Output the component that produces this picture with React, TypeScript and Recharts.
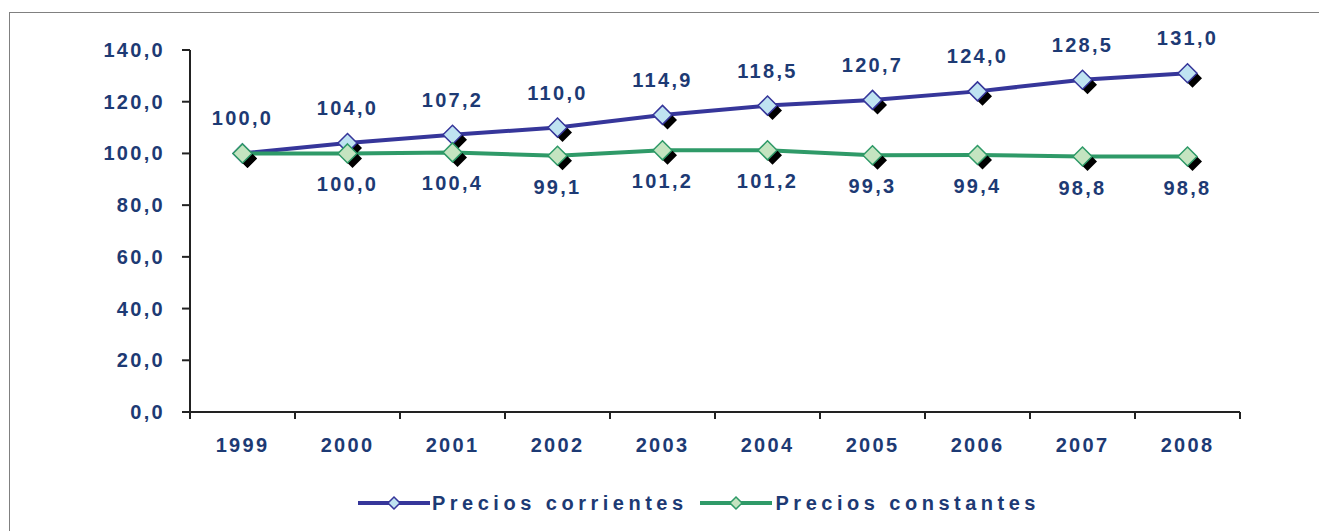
import React from "react";
import {
  LineChart, Line, XAxis, YAxis, LabelList, Legend,
} from "recharts";

const years = ["1999", "2000", "2001", "2002", "2003", "2004", "2005", "2006", "2007", "2008"];
const corrientes = [100.0, 104.0, 107.2, 110.0, 114.9, 118.5, 120.7, 124.0, 128.5, 131.0];
const constantes = [100.0, 100.0, 100.4, 99.1, 101.2, 101.2, 99.3, 99.4, 98.8, 98.8];
const yTicks = [0, 20, 40, 60, 80, 100, 120, 140];

const data = years.map((year, i) => ({
  year,
  corrientes: corrientes[i],
  constantes: constantes[i],
}));

const W = 1319;
const H = 531;
const LEFT = 190;
const RIGHT = 79;
const BAND = (W - LEFT - RIGHT) / years.length;

const NAVY = "#1d3a74";
const BLUE = "#36369a";
const BLUE_FILL = "#bfe3f1";
const GREEN = "#2f9a68";
const GREEN_FILL = "#c4e4c0";
const FONT = "'Liberation Sans', Arial, sans-serif";

const fmt = (v: number) => v.toFixed(1).replace(".", ",");

const textStyle = {
  fill: NAVY,
  fontFamily: FONT,
  fontWeight: 700,
  fontSize: 20,
  letterSpacing: 2.3,
};

const diamond = (cx: number, cy: number, r: number) =>
  `${cx},${cy - r} ${cx + r},${cy} ${cx},${cy + r} ${cx - r},${cy}`;

const makeDot = (stroke: string, fill: string) => (props: any) => {
  const { cx, cy, index } = props;
  if (cx == null || cy == null) return <g key={`e-${index}`} />;
  return (
    <g key={`d-${stroke}-${index}`}>
      <polygon points={diamond(cx + 5, cy + 5, 9.5)} fill="#000" />
      <polygon points={diamond(cx, cy, 9.5)} fill={fill} stroke={stroke} strokeWidth={1.5} />
    </g>
  );
};

const XTick = ({ x, y, payload, index }: any) => (
  <g>
    <line x1={x - BAND / 2} x2={x - BAND / 2} y1={y} y2={y + 7} stroke="#222" strokeWidth={2} />
    {index === years.length - 1 && (
      <line x1={x + BAND / 2} x2={x + BAND / 2} y1={y} y2={y + 7} stroke="#222" strokeWidth={2} />
    )}
    <text x={x} y={y + 40} textAnchor="middle" style={textStyle}>
      {payload.value}
    </text>
  </g>
);

const YTick = ({ x, y, payload }: any) => (
  <text x={x} y={y} dy="0.35em" textAnchor="end" style={textStyle}>
    {fmt(payload.value)}
  </text>
);

const topLabel = ({ x, y, value }: any) => (
  <text x={x} y={y - 28} textAnchor="middle" style={textStyle}>
    {fmt(value)}
  </text>
);

// the 1999 label of the constant series is hidden in the original (it overlaps)
const bottomLabel = ({ x, y, value, index }: any) =>
  index === 0 ? null : (
    <text x={x} y={y + 38} textAnchor="middle" style={textStyle}>
      {fmt(value)}
    </text>
  );

const LegendIcon = ({ stroke, fill }: { stroke: string; fill: string }) => (
  <svg width={72} height={20} style={{ display: "block" }}>
    <line x1={0} x2={72} y1={10} y2={10} stroke={stroke} strokeWidth={4} />
    <polygon points={diamond(36, 10, 6)} fill={fill} stroke={stroke} strokeWidth={1.5} />
  </svg>
);

const legendText = {
  color: NAVY,
  fontFamily: FONT,
  fontWeight: 700,
  fontSize: 20,
  letterSpacing: 4.5,
  whiteSpace: "nowrap" as const,
};

const renderLegend = () => (
  <div
    style={{
      height: 50,
      display: "flex",
      alignItems: "center",
      paddingLeft: 358,
      paddingBottom: 6,
      boxSizing: "border-box",
    }}
  >
    <LegendIcon stroke={BLUE} fill={BLUE_FILL} />
    <span style={{ ...legendText, marginLeft: 2 }}>Precios corrientes</span>
    <span style={{ marginLeft: 12 }} />
    <LegendIcon stroke={GREEN} fill={GREEN_FILL} />
    <span style={{ ...legendText, marginLeft: 4 }}>Precios constantes</span>
  </div>
);

export default function App() {
  return (
    <div
      style={{
        position: "absolute",
        left: 0,
        top: 0,
        width: W,
        height: H,
        overflow: "hidden",
        background: "#fff",
      }}
    >
      <div
        style={{
          position: "absolute",
          left: 9,
          top: 12,
          width: W,
          height: H,
          border: "1px solid #808080",
        }}
      />
      <LineChart
        width={W}
        height={H}
        data={data}
        margin={{ top: 50, right: RIGHT, left: 0, bottom: 0 }}
      >
        <XAxis
          dataKey="year"
          scale="band"
          height={69}
          axisLine={{ stroke: "#222", strokeWidth: 2 }}
          tickLine={false}
          tickSize={0}
          tickMargin={0}
          interval={0}
          tick={<XTick />}
        />
        <YAxis
          width={LEFT}
          domain={[0, 140]}
          ticks={yTicks}
          interval={0}
          axisLine={{ stroke: "#222", strokeWidth: 2 }}
          tickLine={{ stroke: "#222", strokeWidth: 2 }}
          tickSize={8}
          tickMargin={17}
          tick={<YTick />}
        />
        <Legend verticalAlign="bottom" height={50} content={renderLegend} wrapperStyle={{ left: 0, width: W }} />
        <Line
          dataKey="corrientes"
          stroke={BLUE}
          strokeWidth={4}
          dot={makeDot(BLUE, BLUE_FILL)}
          activeDot={false}
          isAnimationActive={false}
        >
          <LabelList dataKey="corrientes" content={topLabel} />
        </Line>
        <Line
          dataKey="constantes"
          stroke={GREEN}
          strokeWidth={4}
          dot={makeDot(GREEN, GREEN_FILL)}
          activeDot={false}
          isAnimationActive={false}
        >
          <LabelList dataKey="constantes" content={bottomLabel} />
        </Line>
      </LineChart>
    </div>
  );
}
